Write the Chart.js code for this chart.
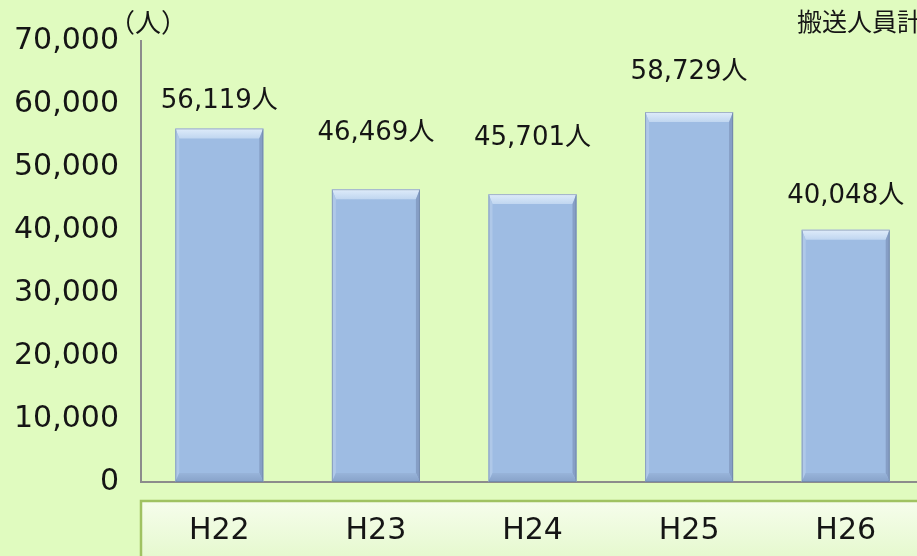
<!DOCTYPE html>
<html>
<head>
<meta charset="utf-8">
<script src="https://cdn.jsdelivr.net/npm/chart.js@4/dist/chart.umd.min.js"></script>
<style>
html, body { margin: 0; padding: 0; overflow: hidden; background: #e0fbbf; }
canvas { display: block; }
</style>
</head>
<body>
<canvas id="myChart" width="940" height="556"></canvas>
<script>
const years = ['H22', 'H23', 'H24', 'H25', 'H26'];
const persons = [56119, 46469, 45701, 58729, 40048];
const yMin = 0;
const yMax = 70000;
const yStep = 10000;
const unitText = '（人）';
const titleText = '搬送人員計';

// how far each value label sits above its bar (px), as placed in the original
const labelLift = [27, 56, 56, 40, 33];

const FONT = '"DejaVu Sans", "Noto Sans CJK JP", sans-serif';

const backdrop = {
    id: 'backdrop',
    beforeDraw(chart) {
        const ctx = chart.ctx;
        const area = chart.chartArea;
        ctx.save();
        ctx.fillStyle = '#e0fbbf';
        ctx.fillRect(0, 0, chart.width, chart.height);
        // category label strip
        const top = 501;
        const g = ctx.createLinearGradient(0, top, 0, chart.height);
        g.addColorStop(0, '#f6fdec');
        g.addColorStop(1, '#e6f9cf');
        ctx.fillStyle = g;
        ctx.fillRect(area.left, top, chart.width, chart.height - top + 5);
        ctx.strokeStyle = '#a0c262';
        ctx.lineWidth = 2.5;
        ctx.strokeRect(area.left, top, chart.width, chart.height - top + 10);
        ctx.restore();
    }
};

const bevel = {
    id: 'bevel',
    afterDatasetsDraw(chart) {
        const ctx = chart.ctx;
        const meta = chart.getDatasetMeta(0);
        ctx.save();
        meta.data.forEach((bar) => {
            const p = bar.getProps(['x', 'y', 'base', 'width'], true);
            const l = p.x - p.width / 2, r = p.x + p.width / 2;
            const t = p.y, b = p.base;
            const bt = 10, bs = 4, bb = 9;
            // top
            const gt = ctx.createLinearGradient(0, t, 0, t + bt);
            gt.addColorStop(0, '#dfecfa');
            gt.addColorStop(1, '#c0d6f0');
            ctx.fillStyle = gt;
            ctx.beginPath();
            ctx.moveTo(l, t); ctx.lineTo(r, t); ctx.lineTo(r - bs, t + bt); ctx.lineTo(l + bs, t + bt);
            ctx.closePath(); ctx.fill();
            // left
            ctx.fillStyle = '#afc8e8';
            ctx.beginPath();
            ctx.moveTo(l, t); ctx.lineTo(l + bs, t + bt); ctx.lineTo(l + bs, b - bb); ctx.lineTo(l, b);
            ctx.closePath(); ctx.fill();
            // right
            ctx.fillStyle = '#869fc6';
            ctx.beginPath();
            ctx.moveTo(r, t); ctx.lineTo(r - bs, t + bt); ctx.lineTo(r - bs, b - bb); ctx.lineTo(r, b);
            ctx.closePath(); ctx.fill();
            // bottom
            const gb = ctx.createLinearGradient(0, b - bb, 0, b);
            gb.addColorStop(0, '#98b4da');
            gb.addColorStop(1, '#87a2c9');
            ctx.fillStyle = gb;
            ctx.beginPath();
            ctx.moveTo(l, b); ctx.lineTo(r, b); ctx.lineTo(r - bs, b - bb); ctx.lineTo(l + bs, b - bb);
            ctx.closePath(); ctx.fill();
            ctx.strokeStyle = 'rgba(90,110,140,0.45)';
            ctx.lineWidth = 1;
            ctx.strokeRect(l + 0.5, t + 0.5, p.width - 1, b - t - 1);
        });
        ctx.restore();
    }
};

const texts = {
    id: 'texts',
    afterDraw(chart) {
        const ctx = chart.ctx;
        const meta = chart.getDatasetMeta(0);
        ctx.save();
        ctx.fillStyle = '#151515';
        ctx.textAlign = 'center';
        ctx.textBaseline = 'middle';
        ctx.font = '26px ' + FONT;
        meta.data.forEach((bar, i) => {
            const v = chart.data.datasets[0].data[i];
            ctx.fillText(v.toLocaleString('en-US') + '人', bar.x, bar.y - labelLift[i]);
        });
        ctx.font = '26px ' + FONT;
        ctx.fillText(unitText, chart.chartArea.left + 7, 25);
        ctx.textAlign = 'left';
        ctx.font = '25px ' + FONT;
        ctx.fillText(titleText, 797, 24);
        ctx.restore();
    }
};

new Chart(document.getElementById('myChart'), {
    type: 'bar',
    data: {
        labels: years,
        datasets: [{
            label: titleText,
            data: persons,
            backgroundColor: '#9ebce3',
            borderWidth: 0,
            categoryPercentage: 1,
            barPercentage: 0.562
        }]
    },
    options: {
        responsive: false,
        animation: false,
        devicePixelRatio: 1,
        layout: { padding: { top: 41, left: 12, right: 16, bottom: 0 } },
        plugins: {
            legend: { display: false },
            tooltip: { enabled: false }
        },
        scales: {
            x: {
                grid: { display: false, drawTicks: false },
                border: { color: '#8c8c8c', width: 2 },
                ticks: { color: '#151515', font: { family: FONT, size: 30 }, padding: 31 },
                afterFit(scale) { scale.height = 74; }
            },
            y: {
                min: yMin,
                max: yMax,
                grid: { display: false, drawTicks: false },
                border: { color: '#8c8c8c', width: 2 },
                ticks: {
                    stepSize: yStep,
                    color: '#151515',
                    font: { family: FONT, size: 30 },
                    padding: 22,
                    callback: v => v.toLocaleString('en-US')
                },
                afterFit(scale) { scale.width = 129; }
            }
        }
    },
    plugins: [backdrop, bevel, texts]
});
</script>
</body>
</html>
